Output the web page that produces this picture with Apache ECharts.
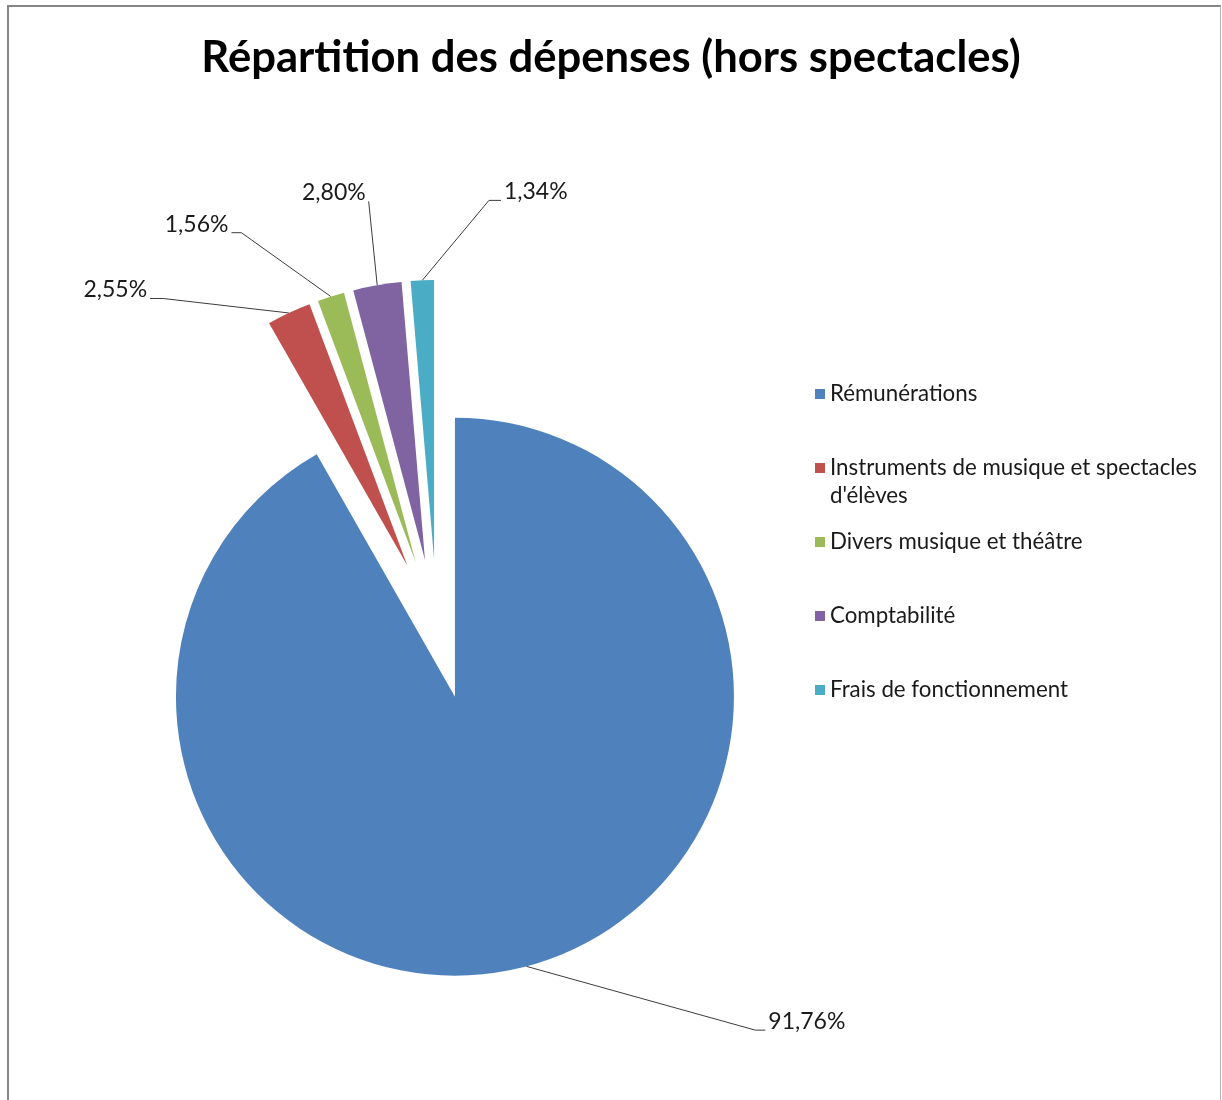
<!DOCTYPE html>
<html>
<head>
<meta charset="utf-8">
<title>Répartition des dépenses</title>
<script src="https://cdn.jsdelivr.net/npm/echarts@6/dist/echarts.min.js"></script>
<style>
  html, body { margin: 0; padding: 0; background: #fff; }
  #chart { width: 1222px; height: 1100px; }
</style>
</head>
<body>
<div id="chart"></div>
<script>
  // slices, clockwise from 12 o'clock
  var categories = [
    'Rémunérations',
    "Instruments de musique et spectacles d'élèves",
    'Divers musique et théâtre',
    'Comptabilité',
    'Frais de fonctionnement'
  ];
  var shares = [91.76, 2.55, 1.56, 2.80, 1.34];
  var colors = ['#4f81bd', '#c0504d', '#9bbb59', '#8064a2', '#4bacc6'];
  // the empty first line keeps the wrapped entry's first line level with its square
  var legendLabels = [
    'Rémunérations',
    "\nInstruments de musique et spectacles\nd'élèves",
    'Divers musique et théâtre',
    'Comptabilité',
    'Frais de fonctionnement'
  ];

  // leader lines : radial part, horizontal part, short end near the text
  var leaderLines = [
    {length: 66, length2: 222, knee: 10, flip: false},
    {length: 16, length2: 132, knee: 13, flip: false},
    {length: 67, length2: 79, knee: 10, flip: false},
    {length: 85, length2: -6, knee: 0, flip: false},
    {length: 80, length2: -88, knee: 12, flip: true}
  ];

  var LH = 28;
  var font = 'Lato, "Open Sans", sans-serif';

  function fmtPct(v) {
    return v.toFixed(2).replace('.', ',') + '%';
  }

  var pieData = categories.map(function (name, i) {
    return {
      name: name,
      value: shares[i],
      selected: true,
      itemStyle: {color: colors[i]},
      labelLine: {length: leaderLines[i].length, length2: leaderLines[i].length2}
    };
  });

  var legendData = categories.map(function (name, i) {
    return {
      name: name,
      textStyle: {padding: i === 1 ? 0 : [LH, 0, LH, 0]}
    };
  });

  var chart = echarts.init(document.getElementById('chart'));
  chart.setOption({
    animation: false,
    backgroundColor: '#fff',
    color: colors,
    title: {
      text: 'Répartition des dépenses (hors spectacles)',
      left: 'center',
      top: 36,
      padding: [0, 0, 0, 14],
      textStyle: {fontFamily: font, fontWeight: 'bold', fontSize: 43.6, color: '#000'}
    },
    legend: {
      orient: 'vertical',
      left: 815,
      top: 352,
      padding: 0,
      itemWidth: 10,
      itemHeight: 10,
      itemGap: -10,
      icon: 'rect',
      selectedMode: false,
      data: legendData,
      formatter: function (name) {
        return legendLabels[categories.indexOf(name)];
      },
      textStyle: {fontFamily: font, fontSize: 22.3, lineHeight: LH, color: '#1a1a1a'}
    },
    graphic: [
      {type: 'line', shape: {x1: 7, y1: 6, x2: 1221, y2: 6}, style: {stroke: '#868686', lineWidth: 2}},
      {type: 'line', shape: {x1: 8, y1: 5, x2: 8, y2: 1100}, style: {stroke: '#868686', lineWidth: 2}},
      {type: 'line', shape: {x1: 1220.5, y1: 6, x2: 1220.5, y2: 1100}, style: {stroke: '#b4b4b4', lineWidth: 1}}
    ],
    series: [
      {
        type: 'pie',
        center: [437, 629],
        radius: 279,
        startAngle: 90,
        clockwise: true,
        selectedMode: 'multiple',
        selectedOffset: 70,
        avoidLabelOverlap: false,
        emphasis: {disabled: true},
        itemStyle: {borderWidth: 0},
        select: {itemStyle: {borderWidth: 0}},
        label: {
          show: true,
          position: 'outside',
          distanceToLabelLine: 3,
          fontFamily: font,
          fontSize: 23,
          lineHeight: 17,
          color: '#1a1a1a',
          formatter: function (p) { return fmtPct(p.value); }
        },
        labelLine: {show: true, lineStyle: {color: '#3c3c3c', width: 1}},
        labelLayout: function (params) {
          var pts = params.labelLinePoints;
          if (!pts) return {};
          var cfg = leaderLines[params.dataIndex];
          var p0 = pts[0];
          var end = [pts[2][0], pts[2][1]];
          // text sits on the leader line, like a baseline
          var out = {verticalAlign: 'bottom'};
          if (cfg.flip) {
            end[0] -= 6;
            out.align = 'left';
          }
          var sign = p0[0] > end[0] ? 1 : -1;
          var knee = [end[0] + sign * cfg.knee, end[1]];
          out.labelLinePoints = [[p0[0], p0[1]], knee, end];
          return out;
        },
        data: pieData
      }
    ]
  });
</script>
</body>
</html>
